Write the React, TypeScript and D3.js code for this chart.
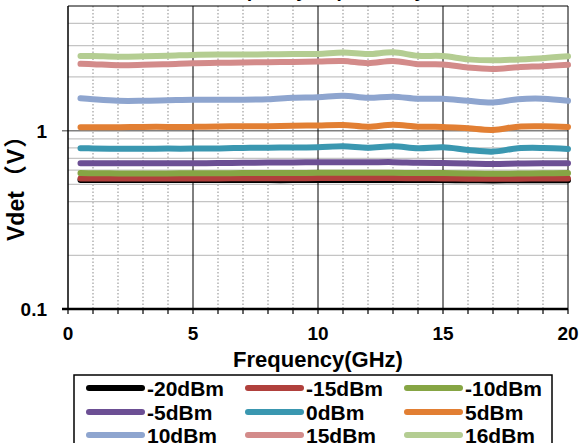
import React from "react";
import * as d3 from "d3";

const freqs = [0.5, 1, 2, 3, 4, 5, 6, 7, 8, 9, 10, 11, 12, 13, 14, 15, 16, 17, 18, 19, 20];
const seriesNames = ["-20dBm", "-15dBm", "-10dBm", "-5dBm", "0dBm", "5dBm", "10dBm", "15dBm", "16dBm"];
const seriesColors = ["#000000", "#b0403c", "#86a544", "#6c4f94", "#3a97b0", "#e27f33", "#8ea5cf", "#d38b8a", "#b4cd92"];

const vM20 = [0.528, 0.528, 0.528, 0.528, 0.528, 0.528, 0.528, 0.528, 0.528, 0.528, 0.529, 0.529, 0.529, 0.529, 0.529, 0.528, 0.527, 0.526, 0.527, 0.527, 0.527];
const vM15 = [0.540, 0.540, 0.540, 0.540, 0.540, 0.540, 0.540, 0.541, 0.541, 0.541, 0.542, 0.542, 0.542, 0.542, 0.541, 0.540, 0.538, 0.537, 0.538, 0.539, 0.540];
const vM10 = [0.578, 0.577, 0.576, 0.576, 0.576, 0.577, 0.577, 0.578, 0.578, 0.579, 0.580, 0.581, 0.580, 0.580, 0.578, 0.578, 0.575, 0.573, 0.575, 0.577, 0.578];
const vM5 = [0.656, 0.656, 0.656, 0.656, 0.656, 0.657, 0.658, 0.660, 0.662, 0.663, 0.665, 0.666, 0.665, 0.666, 0.660, 0.658, 0.654, 0.650, 0.654, 0.656, 0.656];
const v0 = [0.797, 0.795, 0.792, 0.792, 0.793, 0.793, 0.795, 0.800, 0.803, 0.805, 0.807, 0.817, 0.803, 0.817, 0.797, 0.807, 0.780, 0.763, 0.797, 0.800, 0.790];
const v5 = [1.045, 1.045, 1.045, 1.050, 1.050, 1.050, 1.055, 1.060, 1.060, 1.065, 1.070, 1.076, 1.053, 1.080, 1.053, 1.050, 1.030, 1.010, 1.053, 1.058, 1.050];
const v10 = [1.52, 1.50, 1.47, 1.47, 1.48, 1.49, 1.49, 1.49, 1.50, 1.53, 1.54, 1.57, 1.53, 1.55, 1.51, 1.51, 1.47, 1.44, 1.50, 1.51, 1.47];
const v15 = [2.37, 2.36, 2.33, 2.34, 2.36, 2.39, 2.40, 2.41, 2.42, 2.43, 2.44, 2.46, 2.39, 2.46, 2.36, 2.35, 2.26, 2.22, 2.27, 2.30, 2.34];
const v16 = [2.62, 2.62, 2.60, 2.61, 2.63, 2.66, 2.67, 2.67, 2.68, 2.69, 2.69, 2.74, 2.69, 2.75, 2.63, 2.62, 2.51, 2.48, 2.51, 2.55, 2.61];
const seriesValues = [vM20, vM15, vM10, vM5, v0, v5, v10, v15, v16];

const xTickValues = [0, 5, 10, 15, 20];
const xMinorTicks = d3.range(0, 21, 1);
const yTickValues = [0.1, 1];
const yGridValues = [0.2, 0.3, 0.4, 0.5, 0.6, 0.7, 0.8, 0.9, 2, 3, 4];

const FONT = "Arial, 'Liberation Sans', 'Noto Sans CJK SC', sans-serif";

export default function App() {
  const W = 580, H = 443;
  const L = 68, R = 568, T = 6, B = 309;
  const x = d3.scaleLinear().domain([0, 20]).range([L, R]);
  const y = d3.scaleLog().domain([0.1, 5]).range([B, T]);
  const line = d3
    .line<number>()
    .x((_, i) => x(freqs[i]))
    .y((d) => y(d))
    .curve(d3.curveCatmullRom.alpha(0.5));

  const legendCols = [89, 248, 407];
  const legendRows = [388, 412, 435];

  return (
    <svg width={W} height={H} style={{ position: "absolute", left: 0, top: 0, background: "#fff" }}>
      <rect x={0} y={0} width={W} height={H} fill="#fff" />
      {/* title (cut off at top edge) */}
      <text x={318} y={-3.5} textAnchor="middle" fontFamily={FONT} fontWeight="bold" fontSize={19}>
        Frequency Dependency
      </text>
      {/* minor vertical grid */}
      {xMinorTicks.filter((v) => v % 5 !== 0).map((v) => (
        <line key={"vg" + v} x1={x(v)} x2={x(v)} y1={T} y2={B} stroke="#a6a6a6" strokeWidth={1.3} strokeDasharray="1.5,2" />
      ))}
      {/* horizontal grid */}
      {yGridValues.map((v) => (
        <line key={"hg" + v} x1={L} x2={R} y1={y(v)} y2={y(v)} stroke="#c4c4c4" strokeWidth={1.2} />
      ))}
      <line x1={L - 6} x2={R} y1={y(1)} y2={y(1)} stroke="#808080" strokeWidth={1.5} />
      {/* major vertical grid */}
      {[5, 10, 15].map((v) => (
        <line key={"mg" + v} x1={x(v)} x2={x(v)} y1={T} y2={B} stroke="#000" strokeWidth={1} />
      ))}
      {/* frame */}
      <line x1={L} x2={R} y1={T} y2={T} stroke="#000" strokeWidth={1} />
      <line x1={R} x2={R} y1={T} y2={B} stroke="#000" strokeWidth={1} />
      <line x1={L} x2={L} y1={T} y2={B} stroke="#000" strokeWidth={1.5} />
      {/* series */}
      {seriesValues.map((vals, i) => (
        <path key={seriesNames[i]} d={line(vals) || ""} fill="none" stroke={seriesColors[i]} strokeWidth={6} strokeLinecap="round" strokeLinejoin="round" />
      ))}
      {/* bottom axis */}
      <line x1={L - 6} x2={R} y1={B} y2={B} stroke="#000" strokeWidth={2.5} />
      {xMinorTicks.map((v) => (
        <line key={"xt" + v} x1={x(v)} x2={x(v)} y1={B} y2={B + 5} stroke="#000" strokeWidth={1.2} />
      ))}
      {xTickValues.map((v) => (
        <text key={"xl" + v} x={x(v)} y={340} textAnchor="middle" fontFamily={FONT} fontWeight="bold" fontSize={19}>
          {v}
        </text>
      ))}
      {yTickValues.map((v) => (
        <text key={"yl" + v} x={47} y={y(v) + 7} textAnchor="end" fontFamily={FONT} fontWeight="bold" fontSize={19}>
          {v}
        </text>
      ))}
      <text
        transform={`translate(24,241) rotate(-90)`}
        textAnchor="start"
        fontFamily={FONT}
        fontWeight="bold"
        fontSize={23}
      >
        Vdet<tspan dx={3}>（</tspan><tspan dx={1}>V</tspan><tspan dx={1}>）</tspan>
      </text>
      <text x={318} y={367} textAnchor="middle" fontFamily={FONT} fontWeight="bold" fontSize={22}>
        Frequency(GHz)
      </text>
      {/* legend */}
      <rect x={74} y={375} width={478} height={80} fill="#fff" stroke="#000" strokeWidth={1.5} />
      {seriesNames.map((name, i) => {
        const cx = legendCols[i % 3];
        const cy = legendRows[Math.floor(i / 3)];
        return (
          <g key={"lg" + name}>
            <line x1={cx} x2={cx + 53} y1={cy} y2={cy} stroke={seriesColors[i]} strokeWidth={6} strokeLinecap="round" />
            <text x={cx + 58} y={cy + 7.5} fontFamily={FONT} fontWeight="bold" fontSize={21}>
              {name}
            </text>
          </g>
        );
      })}
    </svg>
  );
}
